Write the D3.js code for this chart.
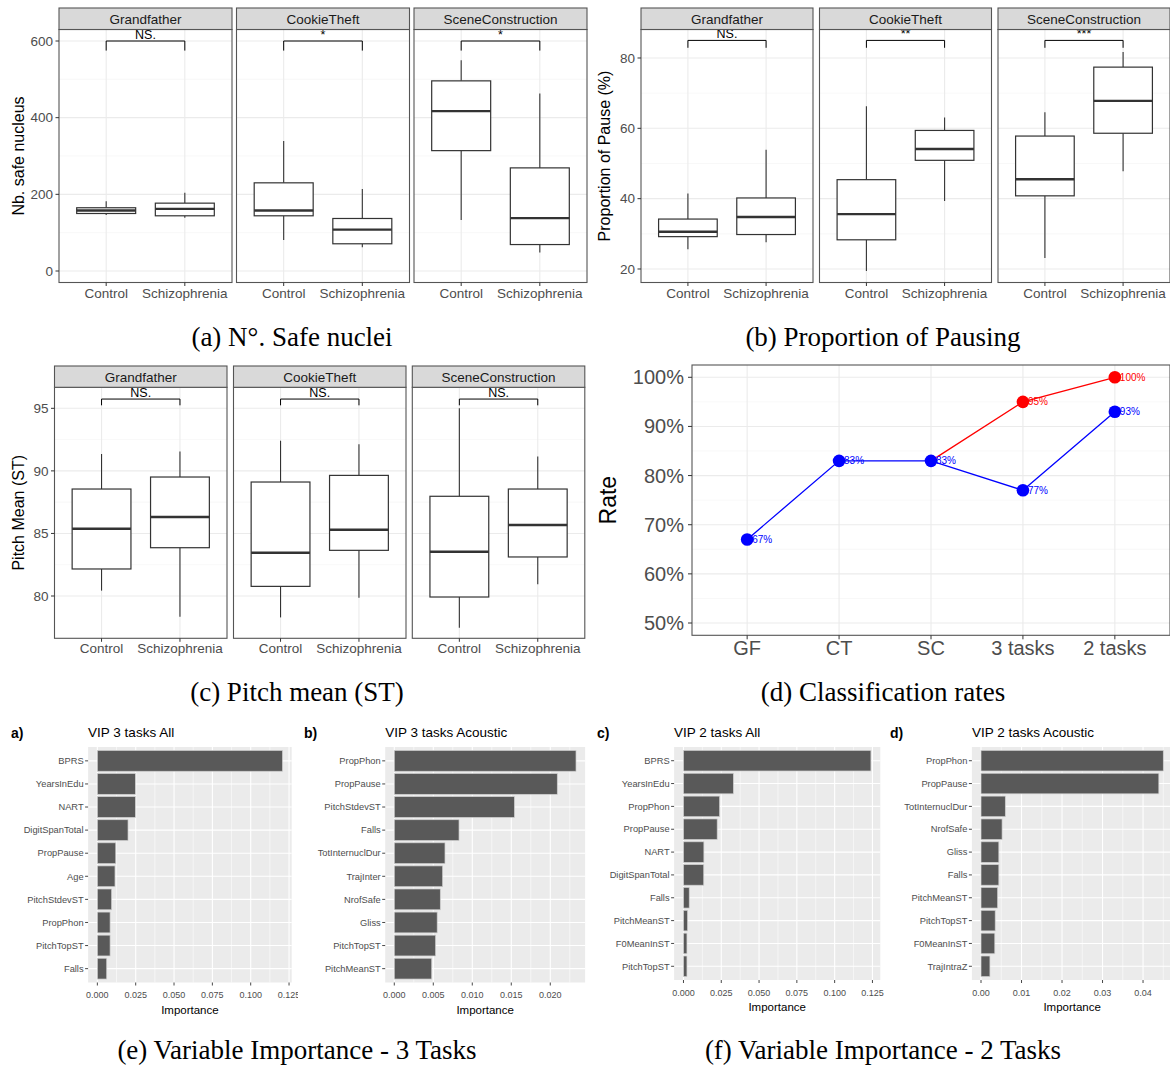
<!DOCTYPE html>
<html><head><meta charset="utf-8">
<script src="https://cdn.jsdelivr.net/npm/d3@7"></script>
<style>
body{margin:0;background:#fff}
svg{display:block}
</style>
</head><body>
<svg id="fig" width="1170" height="1070"></svg>
<script>
// ---------------- DATA ----------------
const tasks = ["Grandfather", "CookieTheft", "SceneConstruction"];
const groups = ["Control", "Schizophrenia"];
// box stats per task: [lower whisker, Q1, median, Q3, upper whisker]
const safeNucleiControl = [[146,150,158,165,182],[81,144,158,230,339],[133,314,417,496,550]];
const safeNucleiSchizophrenia = [[139,144,162,177,204],[62,71,108,137,214],[48,69,138,269,463]];
const safeNucleiSignif = ["NS.", "*", "*"];
const safeNucleiTicks = [0, 200, 400, 600];

const pauseControl = [[25.6,29.2,30.6,34.2,41.5],[19.4,28.3,35.6,45.4,66.3],[23.1,40.8,45.5,57.8,64.6]];
const pauseSchizophrenia = [[27.6,29.8,34.8,40.2,53.9],[39.3,50.9,54.1,59.4,63.1],[47.8,58.6,67.8,77.4,81.7]];
const pauseSignif = ["NS.", "**", "***"];
const pauseTicks = [20, 40, 60, 80];

const pitchControl = [[80.43,82.16,85.38,88.55,91.35],[78.29,80.77,83.46,89.11,92.41],[77.47,79.92,83.54,87.97,95.0]];
const pitchSchizophrenia = [[78.35,83.86,86.31,89.51,91.54],[79.87,83.65,85.30,89.64,92.12],[80.93,83.12,85.67,88.55,91.14]];
const pitchSignif = ["NS.", "NS.", "NS."];
const pitchTicks = [80, 85, 90, 95];

const rateCategories = ["GF", "CT", "SC", "3 tasks", "2 tasks"];
const rateBlue = [67, 83, 83, 77, 93];
const rateRed = [null, null, 83, 95, 100];
const rateTicks = [50, 60, 70, 80, 90, 100];

const vip3AllVars = ["BPRS","YearsInEdu","NART","DigitSpanTotal","PropPause","Age","PitchStdevST","PropPhon","PitchTopST","Falls"];
const vip3AllValues = [0.1207,0.0248,0.0248,0.0200,0.0120,0.0115,0.0093,0.0083,0.0083,0.0061];
const vip3AllTicks = [0,0.025,0.05,0.075,0.1,0.125];

const vip3AcVars = ["PropPhon","PropPause","PitchStdevST","Falls","TotInternuclDur","TrajInter","NrofSafe","Gliss","PitchTopST","PitchMeanST"];
const vip3AcValues = [0.0233,0.0209,0.0154,0.0083,0.0065,0.0062,0.0059,0.0055,0.0053,0.0048];
const vip3AcTicks = [0,0.005,0.01,0.015,0.02];

const vip2AllVars = ["BPRS","YearsInEdu","PropPhon","PropPause","NART","DigitSpanTotal","Falls","PitchMeanST","F0MeanInST","PitchTopST"];
const vip2AllValues = [0.1240,0.0330,0.0239,0.0223,0.0135,0.0134,0.0038,0.0027,0.0023,0.0023];
const vip2AllTicks = [0,0.025,0.05,0.075,0.1,0.125];

const vip2AcVars = ["PropPhon","PropPause","TotInternuclDur","NrofSafe","Gliss","Falls","PitchMeanST","PitchTopST","F0MeanInST","TrajIntraZ"];
const vip2AcValues = [0.0450,0.0439,0.0060,0.0052,0.0044,0.0044,0.0041,0.0035,0.0034,0.0022];
const vip2AcTicks = [0,0.01,0.02,0.03,0.04];

const captions = ["(a) N°. Safe nuclei","(b) Proportion of Pausing","(c) Pitch mean (ST)","(d) Classification rates","(e) Variable Importance - 3 Tasks","(f) Variable Importance - 2 Tasks"];

// ---------------- DRAWING ----------------
const SANS = "'Liberation Sans', Arial, Helvetica, sans-serif";
const SERIF = "'Liberation Serif', 'Times New Roman', serif";
const svg = d3.select("#fig").style("font-family", SANS);
svg.append("rect").attr("width", 1170).attr("height", 1070).attr("fill", "#fff");

function hline(g, x1, x2, y, color, w) {
  g.append("line").attr("x1", x1).attr("x2", x2).attr("y1", y).attr("y2", y)
    .attr("stroke", color).attr("stroke-width", w);
}
function vline(g, x, y1, y2, color, w) {
  g.append("line").attr("x1", x).attr("x2", x).attr("y1", y1).attr("y2", y2)
    .attr("stroke", color).attr("stroke-width", w);
}

function boxFacet(cfg) {
  const y = d3.scaleLinear().domain(cfg.domain).range([cfg.bottom, cfg.top]);
  const root = svg.append("g");
  const minor = [];
  for (let k = 0; k < cfg.ticks.length - 1; k++) minor.push((cfg.ticks[k] + cfg.ticks[k + 1]) / 2);
  tasks.forEach((task, i) => {
    const x0 = cfg.panelsX[i], x1 = x0 + cfg.panelW;
    const x = d3.scalePoint().domain(groups).range([x0, x1]).padding(0.6);
    const bw = x.step() * 0.75;
    const p = root.append("g");
    minor.forEach(v => hline(p, x0, x1, y(v), "#f4f4f4", 0.6));
    cfg.ticks.forEach(v => hline(p, x0, x1, y(v), "#ebebeb", 1.1));
    groups.forEach(gr => vline(p, x(gr), cfg.top, cfg.bottom, "#ebebeb", 1.1));
    [cfg.control[i], cfg.schizo[i]].forEach((s, j) => {
      const cx = x(groups[j]);
      vline(p, cx, y(s[0]), y(s[1]), "#333", 1.1);
      vline(p, cx, y(s[3]), y(s[4]), "#333", 1.1);
      p.append("rect").attr("x", cx - bw / 2).attr("y", y(s[3]))
        .attr("width", bw).attr("height", y(s[1]) - y(s[3]))
        .attr("fill", "#fff").attr("stroke", "#333").attr("stroke-width", 1.2);
      hline(p, cx - bw / 2, cx + bw / 2, y(s[2]), "#333", 2.4);
    });
    // significance bracket
    const bx1 = x(groups[0]), bx2 = x(groups[1]);
    const by = y(cfg.bracket), bt = y(cfg.bracket - cfg.tip);
    p.append("path").attr("d", `M${bx1},${bt}V${by}H${bx2}V${bt}`)
      .attr("fill", "none").attr("stroke", "#000").attr("stroke-width", 1);
    p.append("text").attr("x", (bx1 + bx2) / 2).attr("y", by - 2)
      .attr("text-anchor", "middle").attr("font-size", 12.5).attr("fill", "#000")
      .text(cfg.signif[i]);
    // border
    p.append("rect").attr("x", x0).attr("y", cfg.top).attr("width", cfg.panelW)
      .attr("height", cfg.bottom - cfg.top).attr("fill", "none")
      .attr("stroke", "#555").attr("stroke-width", 1.1);
    // strip
    p.append("rect").attr("x", x0).attr("y", cfg.stripTop).attr("width", cfg.panelW)
      .attr("height", cfg.top - cfg.stripTop).attr("fill", "#d9d9d9")
      .attr("stroke", "#555").attr("stroke-width", 1.1);
    p.append("text").attr("x", (x0 + x1) / 2).attr("y", (cfg.stripTop + cfg.top) / 2)
      .attr("dy", "0.36em").attr("text-anchor", "middle").attr("font-size", 13.5)
      .attr("fill", "#1a1a1a").text(task);
    // x axis
    groups.forEach(gr => {
      vline(p, x(gr), cfg.bottom, cfg.bottom + 3.5, "#333", 1);
      p.append("text").attr("x", x(gr)).attr("y", cfg.bottom + 15)
        .attr("text-anchor", "middle").attr("font-size", 13.5).attr("fill", "#4d4d4d").text(gr);
    });
  });
  // y axis
  const ax = cfg.panelsX[0];
  cfg.ticks.forEach(v => {
    hline(root, ax - 3.5, ax, y(v), "#333", 1);
    root.append("text").attr("x", ax - 6).attr("y", y(v)).attr("dy", "0.35em")
      .attr("text-anchor", "end").attr("font-size", 13.5).attr("fill", "#4d4d4d").text(v);
  });
  root.append("text")
    .attr("transform", `translate(${cfg.titleX},${(cfg.top + cfg.bottom) / 2}) rotate(-90)`)
    .attr("text-anchor", "middle").attr("dy", "0.35em").attr("font-size", 16)
    .attr("fill", "#000").text(cfg.title);
}

boxFacet({
  panelsX: [59, 236.5, 414], panelW: 173, top: 29.5, bottom: 282.5, stripTop: 8,
  domain: [-30, 630], ticks: safeNucleiTicks, control: safeNucleiControl,
  schizo: safeNucleiSchizophrenia, signif: safeNucleiSignif, bracket: 600, tip: 25,
  title: "Nb. safe nucleus", titleX: 18
});
boxFacet({
  panelsX: [641, 819.5, 998], panelW: 172, top: 29.5, bottom: 282.5, stripTop: 8,
  domain: [16.16, 88.1], ticks: pauseTicks, control: pauseControl,
  schizo: pauseSchizophrenia, signif: pauseSignif, bracket: 85, tip: 2.1,
  title: "Proportion of Pause (%)", titleX: 604
});
boxFacet({
  panelsX: [54.5, 233.5, 412.3], panelW: 172.5, top: 387.3, bottom: 638.3, stripTop: 366,
  domain: [76.62, 96.68], ticks: pitchTicks, control: pitchControl,
  schizo: pitchSchizophrenia, signif: pitchSignif, bracket: 95.74, tip: 0.5,
  title: "Pitch Mean (ST)", titleX: 18
});

// ---------- Panel (d): classification rates ----------
(function () {
  const L = 692, R = 1170, T = 365, B = 635.3;
  const x = d3.scalePoint().domain(rateCategories).range([L, R]).padding(0.6);
  const y = d3.scaleLinear().domain([47.5, 102.5]).range([B, T]);
  const g = svg.append("g");
  for (let k = 0; k < rateTicks.length - 1; k++) hline(g, L, R, y((rateTicks[k] + rateTicks[k + 1]) / 2), "#f4f4f4", 0.6);
  rateTicks.forEach(v => hline(g, L, R, y(v), "#ebebeb", 1.1));
  rateCategories.forEach(c => vline(g, x(c), T, B, "#ebebeb", 1.1));
  const line = d3.line().defined(d => d.v != null).x(d => x(d.c)).y(d => y(d.v));
  const red = rateCategories.map((c, i) => ({ c, v: rateRed[i] }));
  const blue = rateCategories.map((c, i) => ({ c, v: rateBlue[i] }));
  g.append("path").attr("d", line(red)).attr("fill", "none").attr("stroke", "#ff0000").attr("stroke-width", 1.3);
  g.append("path").attr("d", line(blue)).attr("fill", "none").attr("stroke", "#0000ff").attr("stroke-width", 1.3);
  const redOwn = red.filter((d, i) => d.v != null && d.v !== rateBlue[i]);
  redOwn.forEach(d => g.append("text").attr("x", x(d.c) + 5).attr("y", y(d.v)).attr("dy", "0.35em")
    .attr("font-size", 10).attr("fill", "#ff0000").text(d.v + "%"));
  blue.forEach(d => g.append("text").attr("x", x(d.c) + 5).attr("y", y(d.v)).attr("dy", "0.35em")
    .attr("font-size", 10).attr("fill", "#0000ff").text(d.v + "%"));
  redOwn.forEach(d => g.append("circle").attr("cx", x(d.c)).attr("cy", y(d.v)).attr("r", 6.3).attr("fill", "#ff0000"));
  blue.forEach(d => g.append("circle").attr("cx", x(d.c)).attr("cy", y(d.v)).attr("r", 6.3).attr("fill", "#0000ff"));
  g.append("rect").attr("x", L).attr("y", T).attr("width", R - L).attr("height", B - T)
    .attr("fill", "none").attr("stroke", "#555").attr("stroke-width", 1.1);
  rateTicks.forEach(v => {
    hline(g, L - 4, L, y(v), "#333", 1);
    g.append("text").attr("x", L - 8).attr("y", y(v)).attr("dy", "0.35em").attr("text-anchor", "end")
      .attr("font-size", 20).attr("fill", "#4d4d4d").text(v + "%");
  });
  rateCategories.forEach(c => {
    vline(g, x(c), B, B + 4, "#333", 1);
    g.append("text").attr("x", x(c)).attr("y", B + 20).attr("text-anchor", "middle")
      .attr("font-size", 20).attr("fill", "#4d4d4d").text(c);
  });
  g.append("text").attr("transform", `translate(608,${(T + B) / 2}) rotate(-90)`)
    .attr("text-anchor", "middle").attr("dy", "0.35em").attr("font-size", 23).attr("fill", "#000").text("Rate");
})();

// ---------- VIP bar charts ----------
function vip(cfg) {
  const clipId = "clip-" + cfg.letter[0];
  svg.append("clipPath").attr("id", clipId).append("rect")
    .attr("x", cfg.clip[0]).attr("y", 700).attr("width", cfg.clip[1] - cfg.clip[0]).attr("height", 330);
  const g = svg.append("g").attr("clip-path", `url(#${clipId})`);
  const max = d3.max(cfg.values);
  const x = d3.scaleLinear().domain([-0.05 * max, 1.05 * max]).range([cfg.L, cfg.R]);
  const y = d3.scaleBand().domain(cfg.vars).range([cfg.T, cfg.B]).paddingInner(0.1).paddingOuter(0.15);
  g.append("rect").attr("x", cfg.L).attr("y", cfg.T).attr("width", cfg.R - cfg.L).attr("height", cfg.B - cfg.T).attr("fill", "#ebebeb");
  for (let k = 0; k < cfg.ticks.length; k++) {
    const m = cfg.ticks[k] + (cfg.ticks[1] - cfg.ticks[0]) / 2;
    if (m < x.domain()[1]) vline(g, x(m), cfg.T, cfg.B, "#fff", 0.55);
  }
  cfg.ticks.forEach(v => { if (v <= x.domain()[1]) vline(g, x(v), cfg.T, cfg.B, "#fff", 1.1); });
  cfg.vars.forEach(v => hline(g, cfg.L, cfg.R, y(v) + y.bandwidth() / 2, "#fff", 1.1));
  cfg.vars.forEach((v, i) => {
    g.append("rect").attr("x", x(0)).attr("y", y(v)).attr("width", x(cfg.values[i]) - x(0))
      .attr("height", y.bandwidth()).attr("fill", "#595959").attr("stroke", "#cfcfcf").attr("stroke-width", 0.7);
  });
  cfg.vars.forEach(v => {
    const cy = y(v) + y.bandwidth() / 2;
    hline(g, cfg.L - 3, cfg.L, cy, "#333", 0.9);
    g.append("text").attr("x", cfg.L - 4.5).attr("y", cy).attr("dy", "0.35em").attr("text-anchor", "end")
      .attr("font-size", 9.3).attr("fill", "#4d4d4d").text(v);
  });
  cfg.ticks.forEach(v => {
    vline(g, x(v), cfg.B, cfg.B + 3, "#333", 0.9);
    g.append("text").attr("x", x(v)).attr("y", cfg.B + 15.5).attr("text-anchor", "middle")
      .attr("font-size", 9).attr("fill", "#4d4d4d").text(d3.format(cfg.fmt)(v));
  });
  g.append("text").attr("x", (cfg.L + cfg.R) / 2).attr("y", cfg.B + 31).attr("text-anchor", "middle")
    .attr("font-size", 11.5).attr("fill", "#000").text("Importance");
  g.append("text").attr("x", cfg.L).attr("y", 737).attr("font-size", 13.5).attr("fill", "#000").text(cfg.title);
  g.append("text").attr("x", cfg.letterX).attr("y", 738).attr("font-size", 14).attr("font-weight", "bold")
    .attr("fill", "#000").text(cfg.letter);
}
vip({ letter: "a)", letterX: 11, title: "VIP 3 tasks All", vars: vip3AllVars, values: vip3AllValues, ticks: vip3AllTicks,
  fmt: ".3f", L: 88.1, R: 291.7, T: 747, B: 982.5, clip: [0, 298] });
vip({ letter: "b)", letterX: 304, title: "VIP 3 tasks Acoustic", vars: vip3AcVars, values: vip3AcValues, ticks: vip3AcTicks,
  fmt: ".3f", L: 385.2, R: 585.1, T: 747, B: 982.5, clip: [298, 590] });
vip({ letter: "c)", letterX: 597, title: "VIP 2 tasks All", vars: vip2AllVars, values: vip2AllValues, ticks: vip2AllTicks,
  fmt: ".3f", L: 674.1, R: 880.3, T: 747, B: 980, clip: [590, 884] });
vip({ letter: "d)", letterX: 890, title: "VIP 2 tasks Acoustic", vars: vip2AcVars, values: vip2AcValues, ticks: vip2AcTicks,
  fmt: ".2f", L: 971.9, R: 1172.4, T: 747, B: 980, clip: [884, 1170] });

// ---------- Captions ----------
const capPos = [[292, 346], [883, 346], [297, 701], [883, 701], [297, 1059], [883, 1059]];
captions.forEach((c, i) => {
  svg.append("text").attr("x", capPos[i][0]).attr("y", capPos[i][1]).attr("text-anchor", "middle")
    .attr("font-family", SERIF).attr("font-size", 27).attr("fill", "#000").text(c);
});
</script>
</body></html>
